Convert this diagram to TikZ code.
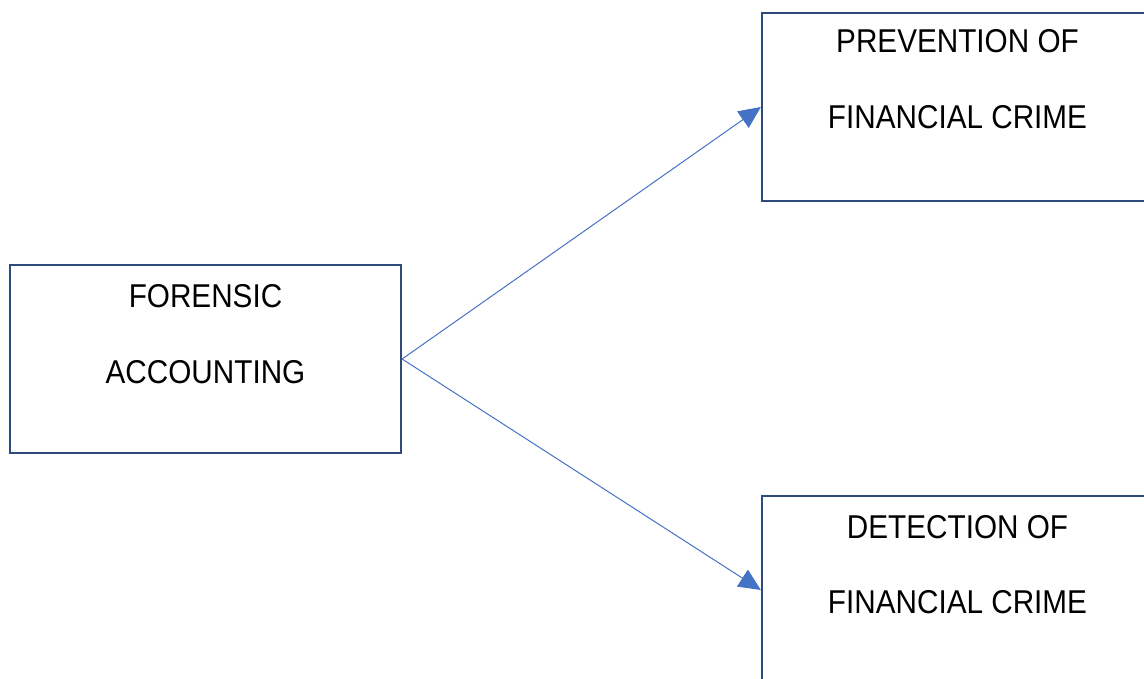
\documentclass[tikz,border=0pt]{standalone}
\usepackage{fontspec}
\setmainfont{Liberation Sans}[FakeStretch=0.9]
\usetikzlibrary{arrows.meta}
\definecolor{boxline}{HTML}{2F4B7C}
\definecolor{arrowblue}{HTML}{4472C4}
\tikzset{
  boxnode/.style={draw=boxline, line width=2.2pt, rectangle, minimum width=391pt, minimum height=188pt, inner sep=0pt},
  txt/.style={anchor=base, inner sep=0pt, font=\fontsize{33}{40}\selectfont},
  conn/.style={draw=arrowblue, line width=1pt, -{Triangle[length=22pt,width=20pt]}}
}
\begin{document}
\begin{tikzpicture}[x=1pt,y=-1pt]
\useasboundingbox (0,0) rectangle (1144,679);
\clip (0,0) rectangle (1144,679);
\node[boxnode] (fa) at (205.5,359) {};
\node[boxnode] (pfc) at (957.5,107) {};
\node[boxnode] (dfc) at (957.5,590) {};
\node[txt] (fa1) at (205.5,308) {FORENSIC};
\node[txt] (fa2) at (205.5,383) {ACCOUNTING};
\node[txt] (p1) at (957.5,53) {PREVENTION OF};
\node[txt] (p2) at (957.5,129) {FINANCIAL CRIME};
\node[txt] (d1) at (957.5,538) {DETECTION OF};
\node[txt] (d2) at (957.5,613) {FINANCIAL CRIME};
\draw[conn] (fa.east) -- (pfc.west);
\draw[conn] (fa.east) -- (dfc.west);
\end{tikzpicture}
\end{document}
